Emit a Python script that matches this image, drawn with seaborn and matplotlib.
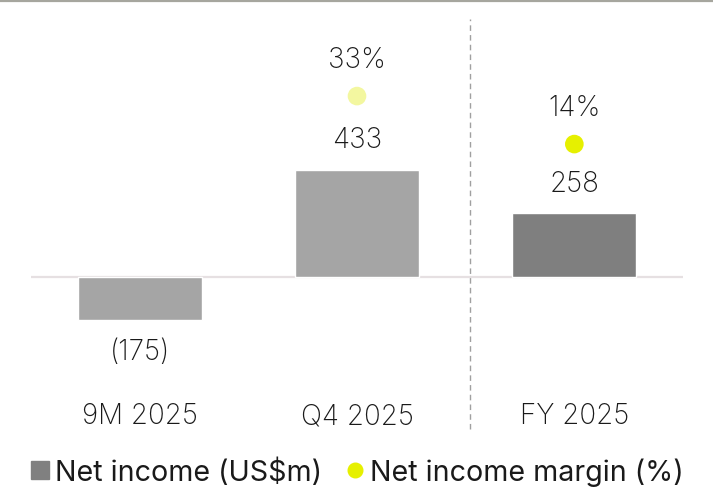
import pandas as pd
import seaborn as sns
import matplotlib.pyplot as plt
from matplotlib.lines import Line2D

# -----------------------------
# Data
# -----------------------------
periods = ["9M 2025", "Q4 2025", "FY 2025"]
net_income = [-175, 433, 258]
income_labels = ["(175)", "433", "258"]
margin_periods = ["Q4 2025", "FY 2025"]
margin_pct = [33, 14]

bar_colors = ["#a5a5a5", "#a5a5a5", "#7f7f7f"]
dot_colors = ["#f3f7a0", "#e6f000"]

income = pd.DataFrame({"Period": periods, "Net_Income": net_income})
margin = pd.DataFrame({
    "x": [periods.index(p) for p in margin_periods],
    "Margin": margin_pct,
    "Period": margin_periods,
})

sns.set_theme(style="white")
plt.rcParams["font.family"] = ["Inter", "DejaVu Sans"]
plt.rcParams["font.weight"] = "light"

TXT = "#1a1a1a"
FS = 20

fig = plt.figure(figsize=(7.13, 4.89), dpi=100)
ax = fig.add_axes([31 / 713, 94 / 489, 652 / 713, 375 / 489])

# -----------------------------
# Bars
# -----------------------------
sns.barplot(
    data=income,
    x="Period",
    y="Net_Income",
    hue="Period",
    palette=bar_colors,
    width=0.57,
    legend=False,
    ax=ax,
    saturation=1,
)

ax.set_xlim(-0.5, 2.5)
ax.set_ylim(-473, 1042)
ax.axhline(0, color="#e6e0e2", lw=1.6, zorder=0)

for i, (v, lab) in enumerate(zip(net_income, income_labels)):
    off = 30 if v >= 0 else -31
    ax.annotate(lab, (i, v), xytext=(0, off * 0.72), textcoords="offset points",
                ha="center", va="center", fontsize=FS, color=TXT)

# dashed separator
ax.vlines(1.52, -614, 1042, colors="#a0a0a0", linestyles=(0, (4, 3)),
          lw=1, clip_on=False)

ax.set_xticks(range(len(periods)))
ax.set_xticklabels(periods, fontsize=FS, color=TXT)
ax.tick_params(axis="x", length=0, pad=6)
ax.set_yticks([])
ax.set_xlabel("")
ax.set_ylabel("")
sns.despine(ax=ax, left=True, bottom=True)

# -----------------------------
# Margin dots
# -----------------------------
ax2 = ax.twinx()
sns.scatterplot(
    data=margin,
    x="x",
    y="Margin",
    hue="Period",
    palette=dot_colors,
    s=180,
    edgecolor="none",
    legend=False,
    ax=ax2,
)
ax2.set_ylim(-84.9, 63.5)
for x, m in zip(margin["x"], margin_pct):
    ax2.annotate(f"{m}%", (x, m), xytext=(0, 37 * 0.72), textcoords="offset points",
                 ha="center", va="center", fontsize=FS, color=TXT)
ax2.set_yticks([])
ax2.set_ylabel("")
ax2.set_xlabel("")
sns.despine(ax=ax2, left=True, bottom=True, right=True)
ax.set_xlim(-0.5, 2.5)

# top rule
fig.add_artist(Line2D([0, 1], [1 - 1.5 / 489] * 2, color="#a6a69e", lw=1.6))

# -----------------------------
# Legend
# -----------------------------
handles = [
    Line2D([], [], marker="s", color="#808080", ls="", markersize=12.5),
    Line2D([], [], marker="o", color="#e6f000", ls="", markersize=10.5),
]
fig.legend(handles, ["Net income (US$m)", "Net income margin (%)"],
           loc="center", bbox_to_anchor=(0.502, 0.033), ncol=2, frameon=False,
           prop={"size": 20.6, "weight": "normal"}, handlelength=0.55,
           handletextpad=0.25, columnspacing=0.85, labelcolor=TXT)

fig.savefig("out.png", dpi=100)
